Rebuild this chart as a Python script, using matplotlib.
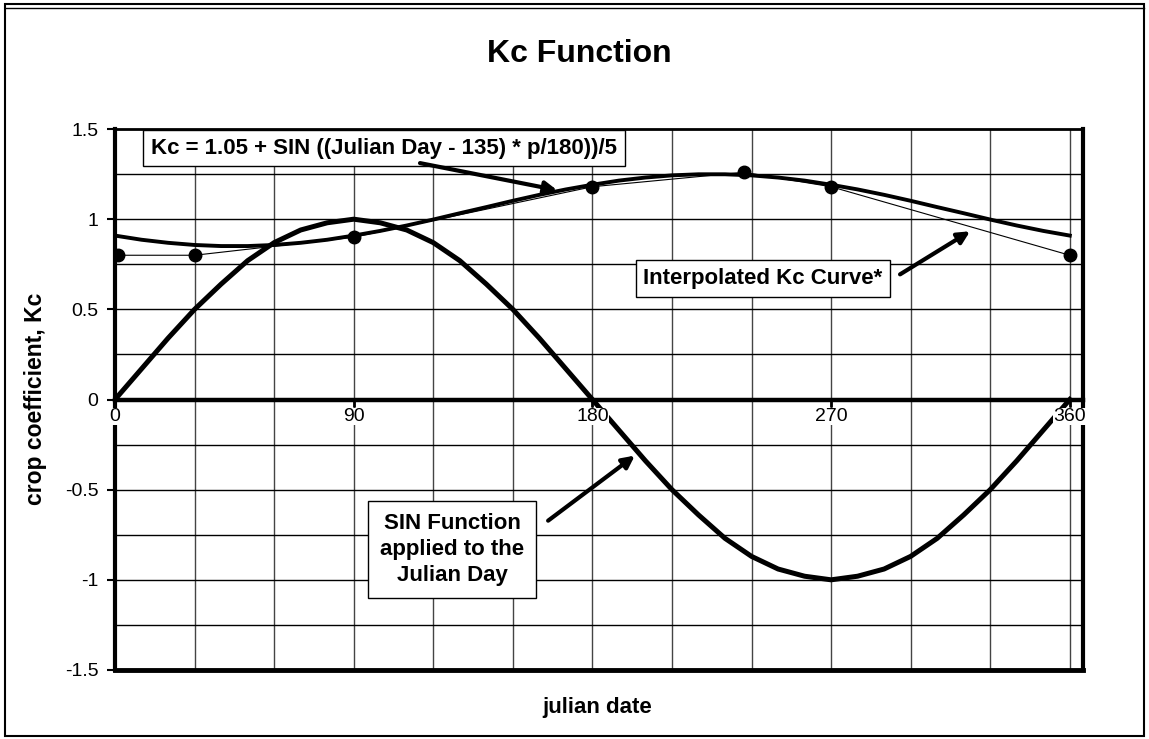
import matplotlib.pyplot as plt
from matplotlib.patches import Rectangle

plt.rcParams['font.family'] = ['Liberation Sans', 'DejaVu Sans']

# julian days sampled every 10 days
days = list(range(0, 361, 10))
# SIN curve
sin_vals = [0.00, 0.17, 0.34, 0.50, 0.64, 0.77, 0.87, 0.94, 0.98, 1.00,
            0.98, 0.94, 0.87, 0.77, 0.64, 0.50, 0.34, 0.17, 0.00,
            -0.17, -0.34, -0.50, -0.64, -0.77, -0.87, -0.94, -0.98, -1.00,
            -0.98, -0.94, -0.87, -0.77, -0.64, -0.50, -0.34, -0.17, 0.00]
# Kc formula curve
kc_vals = [0.909, 0.886, 0.869, 0.857, 0.851, 0.851, 0.857, 0.869, 0.886, 0.909,
           0.935, 0.965, 0.998, 1.033, 1.067, 1.102, 1.135, 1.165, 1.191,
           1.214, 1.231, 1.243, 1.249, 1.249, 1.243, 1.231, 1.214, 1.191,
           1.165, 1.135, 1.102, 1.067, 1.033, 0.998, 0.965, 0.935, 0.909]
# measured Kc points (interpolated curve)
pt_days = [1, 30, 90, 180, 237, 270, 360]
pt_kc = [0.80, 0.80, 0.90, 1.18, 1.26, 1.18, 0.80]

fig = plt.figure(figsize=(11.49, 7.39), dpi=100)
ax = fig.add_axes([0.1001, 0.0934, 0.8425, 0.732])

ax.set_xlim(0, 365)
ax.set_ylim(-1.5, 1.5)

# grid
for gx in range(30, 361, 30):
    ax.axvline(gx, color='#444444', lw=1, zorder=1)
for gy in [-1.25, -1, -0.75, -0.5, -0.25, 0.25, 0.5, 0.75, 1, 1.25]:
    ax.axhline(gy, color='black', lw=1, zorder=1)

ax.plot(days, sin_vals, color='black', lw=3.6, zorder=3)
ax.plot(days, kc_vals, color='black', lw=2.8, zorder=3)
ax.plot(pt_days, pt_kc, color='black', lw=0.8, marker='o', ms=9, zorder=4)

# axes styling
ax.set_axisbelow(False)
ax.xaxis.set_zorder(3.5)
ax.spines['bottom'].set_position(('data', 0))
ax.spines['bottom'].set_linewidth(3.2)
ax.spines['left'].set_linewidth(3)
ax.spines['right'].set_linewidth(3)
ax.spines['top'].set_linewidth(2)
ax.axhline(-1.5, color='black', lw=3.5, clip_on=False, zorder=5)

ax.set_xticks([0, 90, 180, 270, 360])
ax.set_yticks([-1.5, -1, -0.5, 0, 0.5, 1, 1.5])
ax.set_yticklabels(['-1.5', '-1', '-0.5', '0', '0.5', '1', '1.5'])
ax.tick_params(axis='x', direction='out', length=5, width=2, labelsize=14, pad=1)
ax.tick_params(axis='y', direction='out', length=6, width=1.5, labelsize=14, pad=6)
for lab in ax.get_xticklabels():
    lab.set_bbox(dict(facecolor='white', edgecolor='none', pad=0))

fig.text(0.504, 0.927, 'Kc Function', ha='center', va='center',
         fontsize=23, fontweight='bold')
fig.text(0.031, 0.46, 'crop coefficient, Kc', rotation=90, ha='center', va='center',
         fontsize=16.5, fontweight='bold')
fig.text(0.52, 0.043, 'julian date', ha='center', va='center',
         fontsize=16, fontweight='bold')

box = dict(boxstyle='square,pad=0.35', facecolor='white', edgecolor='black', lw=1)
arrow = dict(arrowstyle='-|>', color='black', lw=3, mutation_scale=18, shrinkA=0, shrinkB=0)

ax.text(101.4, 1.394, 'Kc = 1.05 + SIN ((Julian Day - 135) * p/180))/5',
        ha='center', va='center', fontsize=16, fontweight='bold', bbox=box, zorder=6)
ax.annotate('', xy=(166.7, 1.161), xytext=(115, 1.311), arrowprops=arrow, zorder=6)

ax.text(244.3, 0.672, 'Interpolated Kc Curve*', ha='center', va='center',
        fontsize=16, fontweight='bold', bbox=box, zorder=6)
ax.annotate('', xy=(322.4, 0.933), xytext=(296, 0.694), arrowprops=arrow, zorder=6)

ax.text(127.1, -0.833, 'SIN Function\napplied to the\nJulian Day', ha='center',
        va='center', fontsize=16, fontweight='bold', linespacing=1.3,
        bbox=dict(boxstyle='square,pad=0.55', facecolor='white', edgecolor='black', lw=1),
        zorder=6)
ax.annotate('', xy=(196, -0.311), xytext=(163.3, -0.672), arrowprops=arrow, zorder=6)

# outer frame (double line on top)
fig.patches.append(Rectangle((0.004, 0.004), 0.992, 0.99, transform=fig.transFigure,
                             fill=False, edgecolor='black', lw=1.5))
fig.add_artist(plt.Line2D([0.004, 0.996], [0.989, 0.989], transform=fig.transFigure,
                          color='black', lw=1))

fig.savefig('out.png', dpi=100)
